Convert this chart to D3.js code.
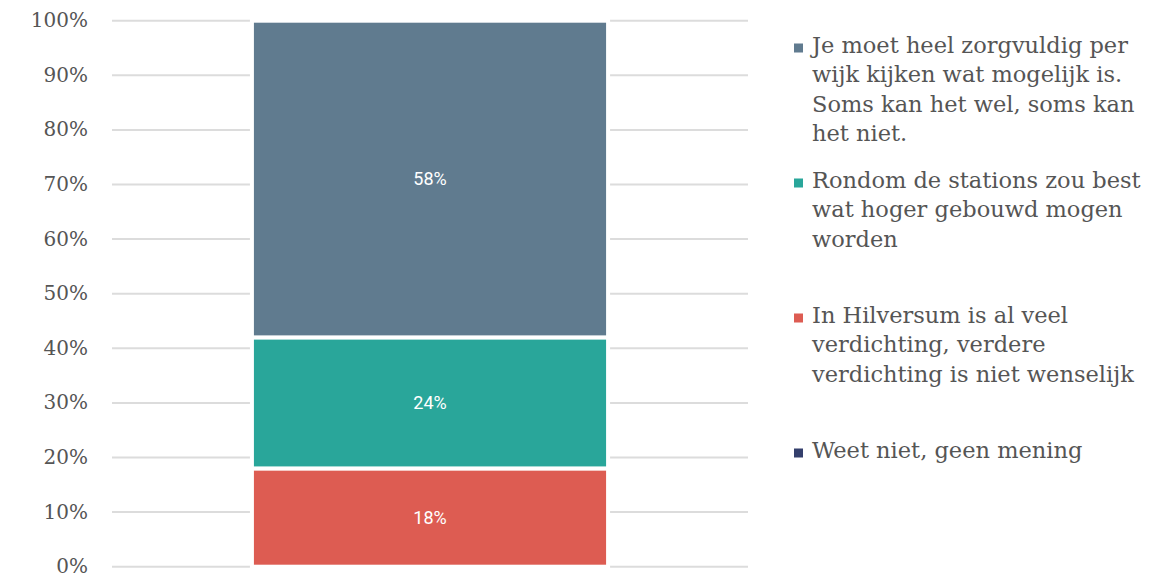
<!DOCTYPE html>
<html>
<head>
<meta charset="utf-8">
<script src="https://cdn.jsdelivr.net/npm/d3@7"></script>
<style>
  html, body { margin: 0; padding: 0; background: #fff; }
  svg { display: block; }
</style>
</head>
<body>
<svg id="chart" width="1176" height="577"></svg>
<script>
// ---- data ----
const categories = ["Totaal"];
const seriesNames = [
  "Je moet heel zorgvuldig per wijk kijken wat mogelijk is. Soms kan het wel, soms kan het niet.",
  "Rondom de stations zou best wat hoger gebouwd mogen worden",
  "In Hilversum is al veel verdichting, verdere verdichting is niet wenselijk",
  "Weet niet, geen mening"
];
const legendLines = [
  ["Je moet heel zorgvuldig per", "wijk kijken wat mogelijk is.", "Soms kan het wel, soms kan", "het niet."],
  ["Rondom de stations zou best", "wat hoger gebouwd mogen", "worden"],
  ["In Hilversum is al veel", "verdichting, verdere", "verdichting is niet wenselijk"],
  ["Weet niet, geen mening"]
];
const seriesValues = [58, 24, 18, 0];
const seriesColors = ["#607b8f", "#29a69a", "#dd5c52", "#343f6c"];
const tickValues = [0, 10, 20, 30, 40, 50, 60, 70, 80, 90, 100];
const tickLabels = ["0%", "10%", "20%", "30%", "40%", "50%", "60%", "70%", "80%", "90%", "100%"];

// ---- layout ----
const svg = d3.select("#chart");
const margin = { left: 112, right: 428, top: 20.7, bottom: 10.3 };
const W = 1176, H = 577;
const plotW = W - margin.left - margin.right;
const plotH = H - margin.top - margin.bottom;
const g = svg.append("g").attr("transform", `translate(${margin.left},${margin.top})`);

const x = d3.scaleBand().domain(categories).range([0, plotW]).paddingInner(0.44).paddingOuter(0.22);
const y = d3.scaleLinear().domain([0, 100]).range([plotH, 0]);

// gridlines
g.append("g").selectAll("line").data(tickValues).join("line")
  .attr("x1", 0).attr("x2", plotW)
  .attr("y1", d => y(d)).attr("y2", d => y(d))
  .attr("stroke", "#dcdcdc").attr("stroke-width", 2);

// y axis
const yAxis = d3.axisLeft(y).tickValues(tickValues).tickFormat((d, i) => tickLabels[i]).tickSize(0).tickPadding(24);
const ya = g.append("g").call(yAxis);
ya.select(".domain").remove();
ya.selectAll("text")
  .attr("font-family", "'DejaVu Serif', serif")
  .attr("font-size", 20)
  .attr("fill", "#555")
  .attr("dy", "0.3em");

// stacked bars: bottom-up order red, teal, blue
const order = [2, 1, 0, 3];
let cum = 0;
const segs = order.map(i => {
  const s = { i, y0: cum, y1: cum + seriesValues[i] };
  cum += seriesValues[i];
  return s;
});
const bars = g.append("g");
categories.forEach(c => {
  bars.selectAll("rect.seg").data(segs.filter(s => s.y1 > s.y0)).join("rect")
    .attr("class", "seg")
    .attr("x", x(c))
    .attr("width", x.bandwidth())
    .attr("y", d => y(d.y1))
    .attr("height", d => y(d.y0) - y(d.y1))
    .attr("fill", d => seriesColors[d.i])
    .attr("stroke", "#fff")
    .attr("stroke-width", 4);
  bars.selectAll("text.lab").data(segs.filter(s => s.y1 > s.y0)).join("text")
    .attr("class", "lab")
    .attr("x", x(c) + x.bandwidth() / 2)
    .attr("y", d => y((d.y0 + d.y1) / 2))
    .attr("dy", "0.35em")
    .attr("text-anchor", "middle")
    .attr("font-family", "Roboto, sans-serif")
    .attr("font-size", 18)
    .attr("fill", "#fff")
    .text(d => seriesValues[d.i] + "%");
});

// legend
const legend = svg.append("g").attr("transform", "translate(794,45)");
const slot = 135, lineH = 29.5;
legendLines.forEach((lines, i) => {
  const item = legend.append("g").attr("transform", `translate(0,${i * slot})`);
  item.append("rect").attr("x", 0).attr("y", -1.5).attr("width", 9).attr("height", 9)
    .attr("fill", seriesColors[i]);
  item.append("text")
    .attr("font-family", "'DejaVu Serif', serif")
    .attr("font-size", 22.5)
    .attr("fill", "#555")
    .selectAll("tspan").data(lines).join("tspan")
    .attr("x", 18)
    .attr("y", (d, j) => j * lineH)
    .attr("dy", "0.35em")
    .text(d => d);
});
</script>
</body>
</html>
